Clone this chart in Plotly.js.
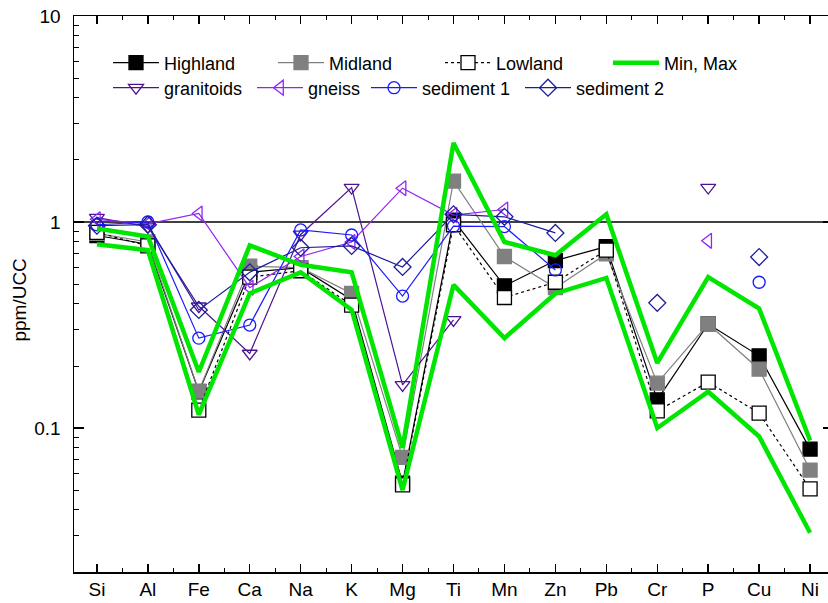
<!DOCTYPE html>
<html><head><meta charset="utf-8">
<script src="https://cdn.plot.ly/plotly-3.0.1.min.js"></script>
<style>html,body{margin:0;padding:0;overflow:hidden;background:#fff}#chart{width:840px;height:603px}</style>
</head><body><div id="chart"></div><script>
const elements = ['Si','Al','Fe','Ca','Na','K','Mg','Ti','Mn','Zn','Pb','Cr','P','Cu','Ni'];
const highland = [0.86,0.78,0.15,0.57,0.60,0.42,0.054,1.02,0.49,0.65,0.76,0.137,0.32,0.224,0.079];
const midland  = [0.88,0.80,0.151,0.61,0.60,0.45,0.072,1.58,0.68,0.48,0.70,0.165,0.32,0.193,0.0625];
const lowland  = [0.89,0.765,0.122,0.54,0.58,0.395,0.053,0.97,0.43,0.51,0.73,0.121,0.167,0.118,0.0506];
const maxVals  = [0.93,0.85,0.187,0.77,0.62,0.57,0.08,2.42,0.80,0.69,1.09,0.207,0.54,0.38,0.087];
const minVals  = [0.78,0.73,0.116,0.45,0.57,0.375,0.05,0.495,0.273,0.45,0.535,0.10,0.15,0.091,0.031];
const granitoids = [1.05,0.95,0.39,0.23,0.87,1.47,0.162,0.335,null,null,null,null,1.47,null,null];
const gneiss     = [1.03,0.98,1.10,0.48,0.68,0.80,1.46,1.08,1.15,null,null,null,0.81,null,null];
const sediment1  = [0.97,1.0,0.273,0.316,0.915,0.865,0.437,0.955,0.95,0.585,null,null,null,0.51,null];
const sediment2  = [0.96,0.97,0.374,0.57,0.75,0.765,0.605,1.09,1.06,0.885,null,0.405,null,0.676,null];
const yTickVals = [0.1, 1, 10];
const yTickText = ['0.1', '1', '10'];

const xs = elements.map((_, i) => i);
const FONT = 'Liberation Sans, Arial, sans-serif';
const W = 840, H = 603;

function tr(name, y, color, dash, symbol, mcolor, mline, size, lw, legend, extra) {
  return Object.assign({
    type: 'scatter', mode: 'lines+markers', name: name, x: xs, y: y,
    line: {color: color, width: lw, dash: dash},
    marker: {symbol: symbol, size: size, color: mcolor, line: {color: mline, width: 1.3}},
    connectgaps: false, legend: legend
  }, extra || {});
}

const traces = [
  {type:'scatter', mode:'markers', x: [], y: [], xaxis:'x2', yaxis:'y2', showlegend:false, hoverinfo:'skip'},
  tr('Highland', highland, '#000000', 'solid', 'square', '#000000', '#000000', 14, 1.2, 'legend'),
  tr('Midland', midland, '#808080', 'solid', 'square', '#808080', '#808080', 14, 1.2, 'legend2'),
  tr('Lowland', lowland, '#000000', '3px,3px', 'square', '#ffffff', '#000000', 14, 1.2, 'legend3'),
  tr('granitoids', granitoids, '#4b1490', 'solid', 'triangle-down-open', '#4b1490', '#4b1490', 13, 1.2, 'legend5'),
  tr('gneiss', gneiss, '#9226f2', 'solid', 'triangle-left-open', '#9226f2', '#9226f2', 13, 1.2, 'legend6'),
  tr('sediment 1', sediment1, '#1a1aff', 'solid', 'circle-open', '#1a1aff', '#1a1aff', 12, 1.2, 'legend7'),
  tr('sediment 2', sediment2, '#1c1c9c', 'solid', 'diamond-open', '#1c1c9c', '#1c1c9c', 13, 1.2, 'legend8'),
  {type:'scatter', mode:'lines', name:'Min, Max', x: xs, y: minVals, line:{color:'#00e600', width:4.5}, legend:'legend4'},
  {type:'scatter', mode:'lines', name:'Min, Max', x: xs, y: maxVals, line:{color:'#00e600', width:4.5}, legend:'legend4', showlegend:false}
];

function leg(px, py) {
  return {x: px / W, y: 1 - py / H, xref: 'container', yref: 'container', xanchor: 'left', yanchor: 'middle',
          bgcolor: 'rgba(0,0,0,0)', borderwidth: 0, itemwidth: 46, font: {family: FONT, size: 18, color: '#000'}};
}

const halfTicks = [];
for (let i = 0; i < elements.length - 1; i++) halfTicks.push(i + 0.5);
const minorY = [];
[0.01, 0.1, 1].forEach(d => { for (let k = 2; k <= 9; k++) minorY.push(+(k * d).toFixed(3)); });
const xRange = [-0.45, 14.45];
const yRange = [Math.log10(0.02), 1];

const layout = {
  width: W, height: H,
  margin: {l: 74, r: 7, t: 16, b: 31, autoexpand: false},
  paper_bgcolor: '#fff', plot_bgcolor: '#fff',
  font: {family: FONT, size: 18, color: '#000'},
  showlegend: true,
  legend: leg(108, 63), legend2: leg(273, 63), legend3: leg(440, 63), legend4: leg(608, 63),
  legend5: leg(108, 88), legend6: leg(252, 88), legend7: leg(366, 88), legend8: leg(520, 88),
  xaxis: {
    range: xRange, tickmode: 'array', tickvals: xs, ticktext: elements,
    ticks: 'inside', ticklen: 8, tickwidth: 1.5, tickcolor: '#000',
    showline: true, linecolor: '#000', linewidth: 1.5, mirror: 'allticks',
    showgrid: false, zeroline: false, tickfont: {size: 19}
  },
  yaxis: {
    type: 'log', range: yRange, tickmode: 'array', tickvals: yTickVals, ticktext: yTickText,
    ticks: 'inside', ticklen: 10, tickwidth: 1.5, tickcolor: '#000', ticklabelstandoff: 8,
    showline: true, linecolor: '#000', linewidth: 1.5, mirror: 'allticks',
    showgrid: false, zeroline: false, tickfont: {size: 19}
  },
  xaxis2: {
    overlaying: 'x', anchor: 'y2', range: xRange, tickmode: 'array', tickvals: halfTicks,
    ticks: 'inside', ticklen: 4, tickwidth: 1, tickcolor: '#000', showticklabels: false,
    showline: false, mirror: 'allticks', showgrid: false, zeroline: false
  },
  yaxis2: {
    overlaying: 'y', anchor: 'x2', side: 'left', type: 'log', range: yRange, tickmode: 'array', tickvals: minorY,
    ticks: 'inside', ticklen: 5, tickwidth: 1, tickcolor: '#000', showticklabels: false,
    showline: false, mirror: 'allticks', showgrid: false, zeroline: false
  },
  annotations: [{text: 'ppm/UCC', xref: 'paper', yref: 'paper', x: (20 - 74) / 759, y: 0.49,
                 xanchor: 'center', yanchor: 'middle', textangle: -90, showarrow: false,
                 font: {family: FONT, size: 19, color: '#000'}}],
  shapes: [{type: 'line', xref: 'paper', x0: 0, x1: 1, yref: 'y', y0: 1, y1: 1, line: {color: '#000', width: 1.5}, layer: 'below'}]
};

Plotly.newPlot('chart', traces, layout, {displayModeBar: false, staticPlot: true});
</script></body></html>
